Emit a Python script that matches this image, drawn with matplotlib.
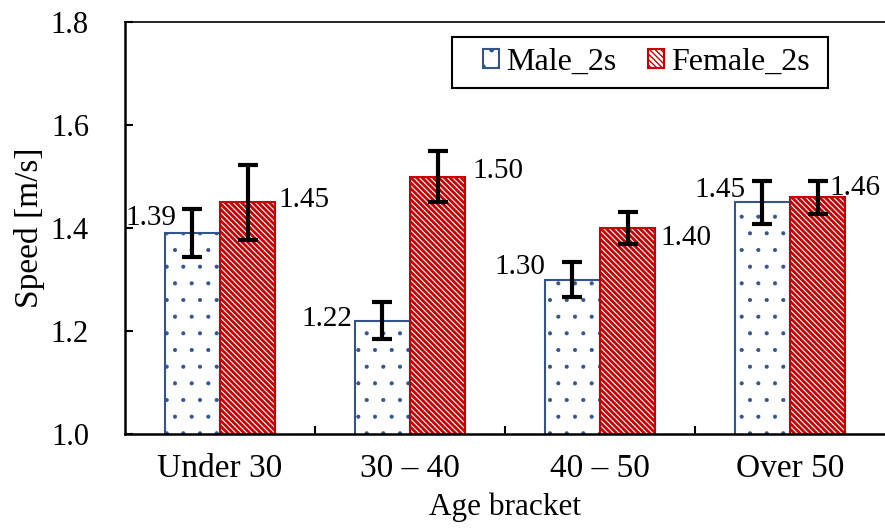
import matplotlib
matplotlib.use('Agg')
import matplotlib.pyplot as plt
from matplotlib.patches import Rectangle
import numpy as np

# Walking speed by age bracket
groups = ['Under 30', '30 – 40', '40 – 50', 'Over 50']
male = [1.39, 1.22, 1.30, 1.45]
female = [1.45, 1.50, 1.40, 1.46]
male_err = [0.047, 0.036, 0.034, 0.042]
female_err = [0.073, 0.050, 0.032, 0.032]

# label nudges in pixels (dx, dy) from the bar's outer top corner
male_lbl_off = [(12, 15), (-3, 2), (0, 12), (11, 12)]
female_lbl_off = [(3, 2), (7, 6), (5, -10), (-16, 9)]

plt.rcParams['font.family'] = ['Liberation Serif', 'DejaVu Serif']
plt.rcParams['font.size'] = 22

blue = '#34548F'
red = '#C80000'

fig = plt.figure(figsize=(8.85, 5.29), dpi=100)
ax = fig.add_axes([125 / 885, 95 / 529, 760 / 885, 412 / 529])

x = np.arange(len(groups))
w = 0.29

with plt.rc_context({'hatch.linewidth': 0.5}):
    ax.bar(x - w / 2, male, w, color='white', edgecolor=blue,
           hatch='.', linewidth=1.5, label='Male_2s', zorder=2)
with plt.rc_context({'hatch.linewidth': 2.0}):
    ax.bar(x + w / 2, female, w, color='white', edgecolor=red,
           hatch='\\' * 6, linewidth=1.5, label='Female_2s', zorder=2)

ax.errorbar(x - w / 2, male, yerr=male_err, fmt='none', ecolor='black',
            elinewidth=3, capsize=7, capthick=3, zorder=3)
ax.errorbar(x + w / 2, female, yerr=female_err, fmt='none', ecolor='black',
            elinewidth=3, capsize=7, capthick=3, zorder=3)

pt = 72 / 100
for i in range(len(groups)):
    dx, dy = male_lbl_off[i]
    ax.annotate(f'{male[i]:.2f}', (x[i] - w, male[i]),
                xytext=(dx * pt, dy * pt), textcoords='offset points',
                ha='right', va='center', fontsize=21)
    dx, dy = female_lbl_off[i]
    ax.annotate(f'{female[i]:.2f}', (x[i] + w, female[i]),
                xytext=(dx * pt, dy * pt), textcoords='offset points',
                ha='left', va='center', fontsize=21)

ax.set_xlim(-0.5, len(groups) - 0.5)
ax.set_ylim(1.0, 1.8)
ax.set_yticks([1.0, 1.2, 1.4, 1.6, 1.8])
ax.set_yticklabels(['1.0', '1.2', '1.4', '1.6', '1.8'], fontsize=22)
ax.set_xticks(x)
ax.set_xticklabels(groups, fontsize=24)
ax.set_xticks(np.arange(0.5, len(groups) - 1), minor=True)
ax.tick_params(axis='x', which='major', length=0, pad=14)
ax.tick_params(axis='x', which='minor', direction='in', length=6, width=1.5)
ax.tick_params(axis='y', direction='in', length=6, width=1.5, pad=26)

for s in ['left', 'bottom']:
    ax.spines[s].set_linewidth(1.8)
ax.spines['top'].set_linewidth(1.2)
ax.spines['right'].set_visible(False)

ax.set_xlabel('Age bracket', fontsize=22.5, labelpad=6)
ax.set_ylabel('Speed [m/s]', fontsize=24, labelpad=4)

# legend frame drawn as its own box, entries placed inside without a frame
box_x0, box_x1 = 0.430, 0.925
box_y0, box_y1 = 0.840, 0.964
ax.add_patch(Rectangle((box_x0, box_y0), box_x1 - box_x0, box_y1 - box_y0,
                       transform=ax.transAxes, facecolor='white',
                       edgecolor='black', linewidth=1.5, zorder=4))
leg = ax.legend(loc='center left', bbox_to_anchor=(0.471, (box_y0 + box_y1) / 2),
                ncol=2, frameon=False,
                handlelength=0.5, handleheight=0.5, handletextpad=0.22,
                columnspacing=1.0, borderpad=0, borderaxespad=0,
                prop={'size': 23})
leg.set_zorder(5)

fig.savefig('out.png', dpi=100)
